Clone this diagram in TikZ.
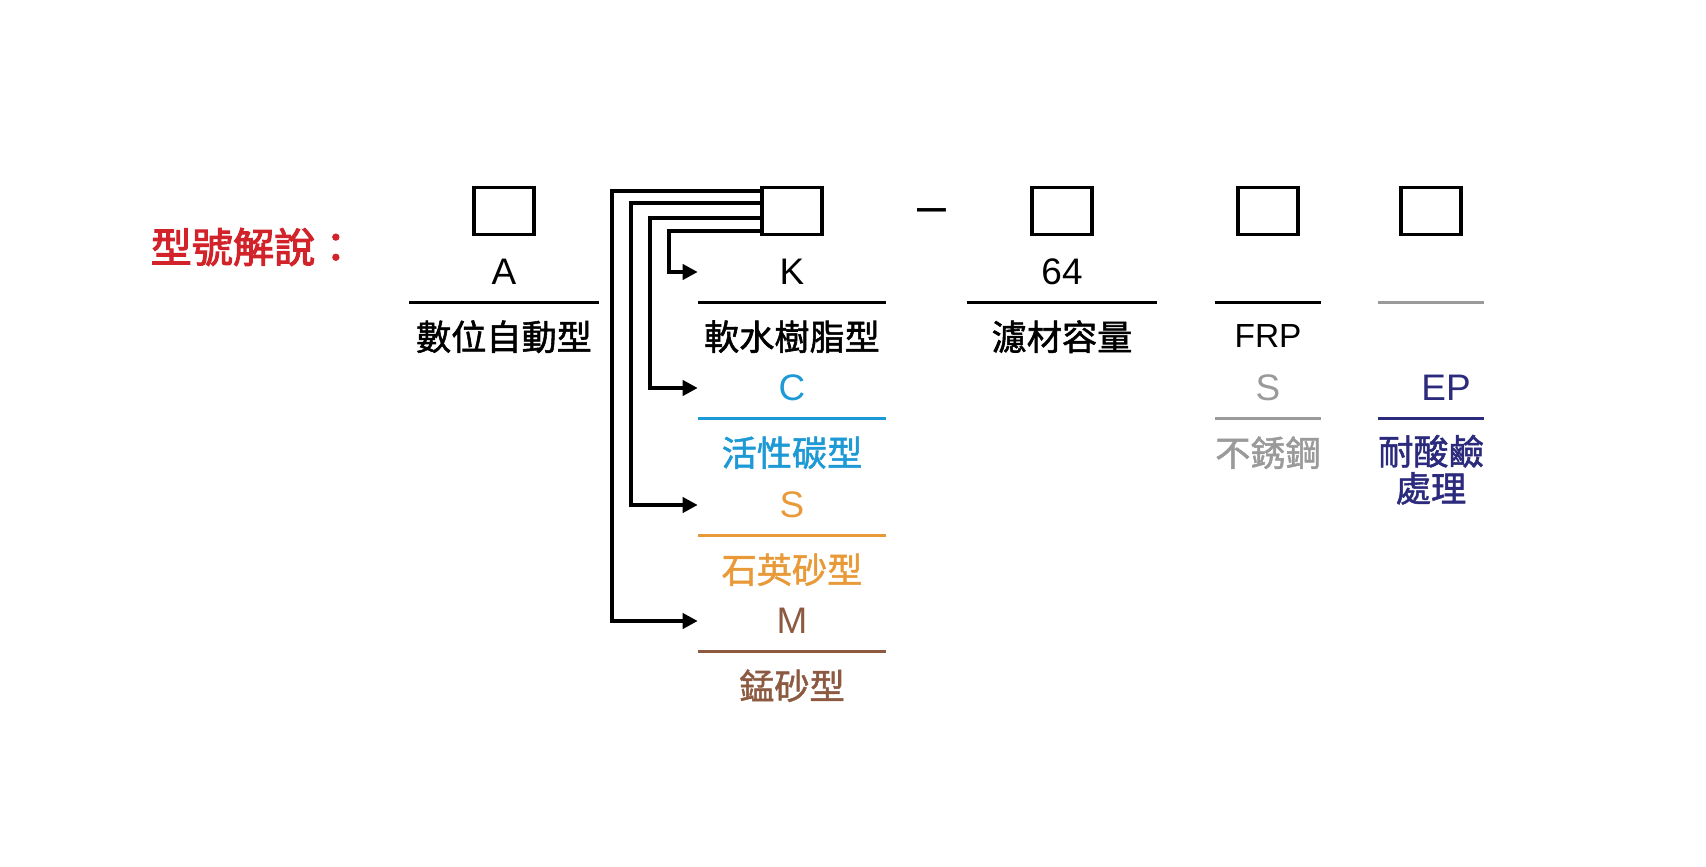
\documentclass[tikz,border=0pt]{standalone}
\usepackage{fontspec}
\setmainfont{Liberation Sans}
\newfontfamily\cjk{Noto Sans CJK TC}[FakeBold=1.5]
\newfontfamily\cjktitle{Noto Sans CJK TC}[FakeBold=2.5]
\usetikzlibrary{arrows.meta}
\usetikzlibrary{calc}
\definecolor{titlered}{HTML}{D2232A}
\definecolor{cblue}{HTML}{1D9AD6}
\definecolor{sorange}{HTML}{E99A38}
\definecolor{mbrown}{HTML}{8C5A41}
\definecolor{sgray}{HTML}{9A9A9A}
\definecolor{epblue}{HTML}{2B2A7C}
\tikzset{
  code box/.style={
    draw,
    line width=1.1pt,
    minimum width=0.6cm,
    minimum height=0.47cm,
  }
}
\tikzset{
  code node/.style={
    minimum width=1.87cm,
    minimum height=0.6cm,
    inner sep=0pt,
    font=\fontsize{10.5}{12}\selectfont,
  }
}
\tikzset{
  short code/.style={
    code node,
    minimum width=1.04cm,
  }
}
\tikzset{
  desc node/.style={
    inner sep=0pt,
    font=\fontsize{10}{10.5}\selectfont\cjk,
  }
}
\begin{document}
\begin{tikzpicture}[
    x=0.01cm, y=-0.01cm,
    >={Triangle[length=1.5mm,width=1.5mm]},
    ]
  \useasboundingbox (0,0) rectangle (1706,867);

  \node[anchor=west, inner sep=0pt, text=titlered,
    font=\fontsize{11.7}{12}\selectfont\cjktitle] (title) at (150,247) {型號解說：};

  \foreach \x/\px in {abox/504, kbox/792, qbox/1062, fbox/1268, ebox/1431}{
    \node[code box] (\x) at (\px,211) {};
  }
  \node[anchor=base, font=\fontsize{14.8}{15}\selectfont] (dash) at (932,224) {–};

  \node[code node, minimum width=1.88cm] (a) at (504,272) {A};
  \node[code node] (k) at (792,272) {K};
  \node[code node, minimum width=1.89cm] (q) at (1062,272) {64};
  \node[short code] (f) at (1268,272) {};
  \node[short code] (e) at (1431,272) {};

  \node[code node, cblue] (c) at (792,388) {C};
  \node[code node, sorange] (s) at (792,505) {S};
  \node[code node, mbrown] (m) at (792,621) {M};
  \node[short code, sgray] (ss) at (1268,388) {S};
  \node[short code, epblue] (ep) at (1431,388) {\hspace{0.3cm}EP};

  \foreach \x/\t/\c in {a/數位自動型/black, k/軟水樹脂型/black, q/濾材容量/black,
      c/活性碳型/cblue, s/石英砂型/sorange, m/錳砂型/mbrown, ss/不銹鋼/sgray}{
    \node[desc node, text=\c] (\x-d) at ($(\x.south)+(0,34)$) {\t};
  }
  \node[inner sep=0pt, font=\fontsize{9.5}{10}\selectfont] (f-d) at ($(f.south)+(0,33)$) {FRP};
  \node[desc node, text=epblue, align=center] (ep-d) at ($(ep.south)+(0,51)$) {耐酸鹼\\處理};

  \foreach \x/\c in {a/black, k/black, q/black, f/black, e/sgray,
      c/cblue, s/sorange, ss/sgray, ep/epblue, m/mbrown}{
    \draw[line width=0.9pt, \c] (\x.south west) -- (\x.south east);
  }

  \foreach \x/\dy/\dx in {m/-20/86, s/-8/67, c/7/48, k/20/29}{
    \draw[->, line width=1.1pt] ($(kbox.west)+(0,\dy)$) -| ($(\x.west)+(-\dx,0)$) -- (\x.west);
  }

\end{tikzpicture}
\end{document}
